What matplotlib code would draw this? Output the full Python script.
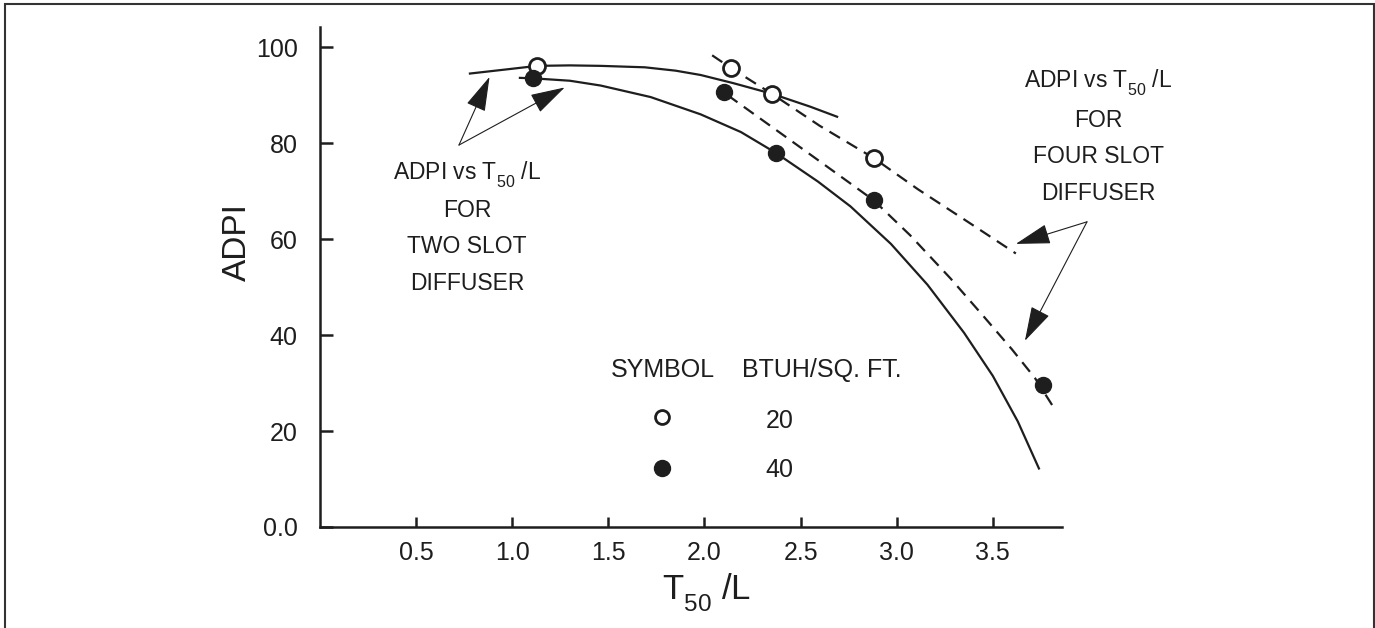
import matplotlib
matplotlib.use("Agg")
import matplotlib.pyplot as plt
from matplotlib.patches import Rectangle

plt.rcParams['font.family'] = ['Liberation Sans', 'DejaVu Sans']
plt.rcParams['mathtext.fontset'] = 'custom'
plt.rcParams['mathtext.rm'] = 'Liberation Sans'
plt.rcParams['mathtext.it'] = 'Liberation Sans'
plt.rcParams['mathtext.default'] = 'regular'

# the original drops its subscripts lower than mathtext does by default
try:
    from matplotlib import _mathtext
    _mathtext.FontConstantsBase.subdrop = 0.65
    _mathtext.FontConstantsBase.sub1 = 0.65
except Exception:
    pass

# curves
two_20_x = [0.78, 1.00, 1.13, 1.30, 1.46, 1.69, 1.85, 1.98, 2.15, 2.35, 2.55, 2.69]
two_20_y = [94.5, 95.5, 96.1, 96.2, 96.1, 95.8, 95.1, 94.2, 92.5, 90.3, 87.6, 85.5]

two_40_x = [1.04, 1.11, 1.30, 1.46, 1.72, 1.98, 2.19, 2.37, 2.59, 2.76, 2.97, 3.16, 3.35, 3.50, 3.63, 3.74]
two_40_y = [93.6, 93.5, 93.0, 92.0, 89.6, 86.0, 82.3, 78.0, 72.0, 66.8, 59.0, 50.5, 40.5, 31.5, 22.0, 12.2]

four_20_x = [2.04, 2.14, 2.35, 2.60, 2.88, 3.11, 3.37, 3.62]
four_20_y = [98.3, 95.6, 90.3, 83.6, 76.9, 70.4, 63.6, 57.0]

four_40_x = [2.12, 2.35, 2.60, 2.88, 3.07, 3.28, 3.45, 3.60, 3.72, 3.82]
four_40_y = [90.0, 83.4, 76.2, 68.1, 60.8, 51.8, 44.0, 37.0, 31.0, 24.7]

# measured points
pts_20_x = [1.13, 2.14, 2.35, 2.88]
pts_20_y = [96.1, 95.6, 90.3, 76.9]
pts_40_x = [1.11, 2.10, 2.37, 2.88, 3.76]
pts_40_y = [93.5, 90.7, 78.0, 68.1, 29.6]

yticks = [0, 20, 40, 60, 80, 100]
ytick_labels = ['0.0', '20', '40', '60', '80', '100']
xticks = [0.5, 1.0, 1.5, 2.0, 2.5, 3.0, 3.5]
xtick_labels = ['0.5', '1.0', '1.5', '2.0', '2.5', '3.0', '3.5']

ink = '#1e1e1e'
W, H = 1375, 628
fig = plt.figure(figsize=(W / 100, H / 100), dpi=100)
ax = fig.add_axes([320 / W, 1 - 527 / H, (1062 - 320) / W, (527 - 27) / H])
ax.set_xlim(0, 3.86)
ax.set_ylim(0, 104.2)

for s in ['top', 'right']:
    ax.spines[s].set_visible(False)
for s in ['left', 'bottom']:
    ax.spines[s].set_linewidth(1.8)
    ax.spines[s].set_color(ink)

ax.set_yticks(yticks)
ax.set_yticklabels(ytick_labels)
ax.set_xticks(xticks)
ax.set_xticklabels(xtick_labels)
ax.tick_params(axis='y', direction='in', length=9.5, width=1.8, pad=16, labelsize=18, colors=ink)
ax.tick_params(axis='x', direction='in', length=7.2, width=1.8, pad=10, labelsize=18, colors=ink)

lw = 1.6
dash = (0, (5.5, 3.5))
ax.plot(two_20_x, two_20_y, color=ink, lw=lw, clip_on=False)
ax.plot(two_40_x, two_40_y, color=ink, lw=lw, clip_on=False)
ax.plot(four_20_x, four_20_y, color=ink, lw=lw, ls=dash, clip_on=False)
ax.plot(four_40_x, four_40_y, color=ink, lw=lw, ls=dash, clip_on=False)

ax.plot(pts_20_x, pts_20_y, 'o', ms=11.5, mfc='white', mec=ink, mew=2, zorder=5, clip_on=False)
ax.plot(pts_40_x, pts_40_y, 'o', ms=11.5, mfc=ink, mec=ink, zorder=5, clip_on=False)

# legend block
ax.text(1.785, 31.25, 'SYMBOL', ha='center', va='baseline', fontsize=18, color=ink)
ax.text(2.61, 31.25, 'BTUH/SQ. FT.', ha='center', va='baseline', fontsize=18, color=ink)
ax.plot([1.78], [22.85], 'o', ms=10, mfc='white', mec=ink, mew=2)
ax.plot([1.78], [12.35], 'o', ms=11.5, mfc=ink, mec=ink)
ax.text(2.39, 20.6, '20', ha='center', va='baseline', fontsize=18, color=ink)
ax.text(2.39, 10.4, '40', ha='center', va='baseline', fontsize=18, color=ink)

# annotations
left_lines = ['ADPI vs T$_{50}$ /L', 'FOR', 'TWO SLOT', 'DIFFUSER']
left_base = [72.5, 64.6, 57.1, 49.4]
for t, yb in zip(left_lines, left_base):
    ax.text(0.766, yb, t, ha='center', va='baseline', fontsize=16.5, color=ink)

right_lines = ['ADPI vs T$_{50}$ /L', 'FOR', 'FOUR SLOT', 'DIFFUSER']
right_base = [91.5, 83.3, 75.8, 68.1]
for t, yb in zip(right_lines, right_base):
    ax.text(4.05, yb, t, ha='center', va='baseline', fontsize=16.5, color=ink, clip_on=False)

arrow = dict(arrowstyle='-|>,head_length=1.1,head_width=0.32', color=ink, lw=0.8,
             mutation_scale=20, shrinkA=0, shrinkB=0)
ax.annotate('', xy=(0.882, 93.8), xytext=(0.723, 79.6), arrowprops=arrow, annotation_clip=False)
ax.annotate('', xy=(1.273, 91.6), xytext=(0.723, 79.6), arrowprops=arrow, annotation_clip=False)
ax.annotate('', xy=(3.62, 59.0), xytext=(3.99, 63.6), arrowprops=arrow, annotation_clip=False)
ax.annotate('', xy=(3.667, 38.8), xytext=(3.99, 63.6), arrowprops=arrow, annotation_clip=False)

# axis titles
fig.text(237 / W, 1 - 242 / H, 'ADPI', rotation=90, ha='center', va='center', fontsize=24, color=ink)
fig.text(707 / W, 1 - 600 / H, 'T$_{50}$ /L', ha='center', va='baseline', fontsize=25, color=ink)

# frame around the figure
fig.patches.append(Rectangle((5 / W, -0.02), (1373.5 - 5) / W, 0.02 + 1 - 3.5 / H,
                             transform=fig.transFigure, fill=False, lw=1.5, ec='#333333'))

fig.savefig('out.png', dpi=100)
